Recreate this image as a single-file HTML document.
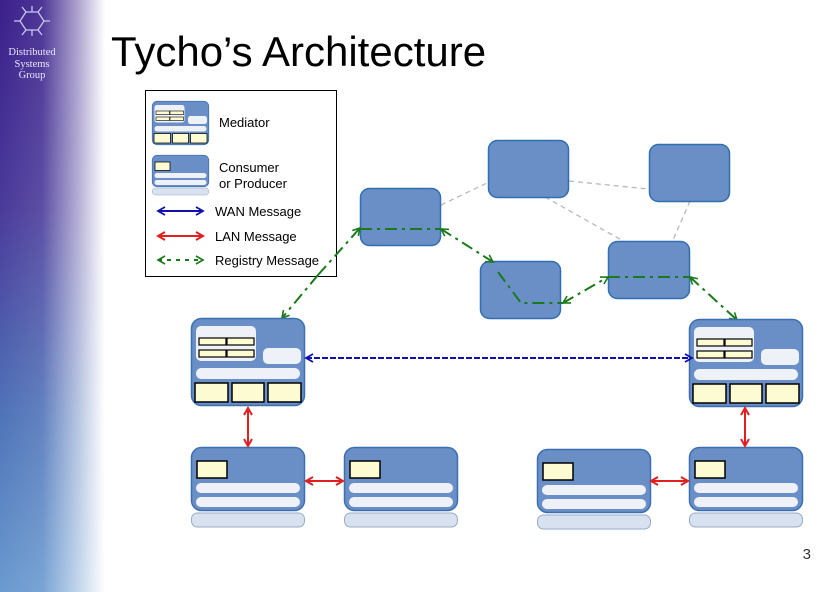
<!DOCTYPE html>
<html><head><meta charset="utf-8"><style>
html,body{margin:0;padding:0;background:#fff;}
body{width:839px;height:592px;overflow:hidden;position:relative;font-family:"Liberation Sans",sans-serif;}
.side{position:absolute;left:0;top:0;width:105px;height:592px;
background:linear-gradient(to right,rgba(255,255,255,0) 0%,rgba(255,255,255,0.1) 40%,rgba(255,255,255,0.6) 75%,rgba(255,255,255,1) 100%),linear-gradient(to bottom,#3a1f8a 0%,#4a3a9a 35%,#4f73b8 70%,#6a9ad0 100%);}
</style></head><body>
<div class="side"></div>
<svg width="839" height="592" style="position:absolute;left:0;top:0" font-family="Liberation Sans, sans-serif">
<defs>
<g id="med">
<rect x="0.5" y="0.5" width="113" height="87" rx="10" fill="#6a8fc7" stroke="#3c6fb0" stroke-width="1.5"/>
<rect x="5" y="8" width="60" height="35" rx="5" fill="#eef2f8"/>
<g fill="#fdfbd2" stroke="#000" stroke-width="1.2">
<rect x="8" y="20" width="27" height="7"/><rect x="36" y="20" width="27" height="7"/>
<rect x="8" y="32" width="27" height="7"/><rect x="36" y="32" width="27" height="7"/>
</g>
<rect x="72" y="30" width="38" height="16" rx="5" fill="#eef2f8"/>
<rect x="5" y="50" width="104" height="11" rx="5.5" fill="#eef2f8"/>
<g fill="#fdfbd2" stroke="#000" stroke-width="1.5">
<rect x="4" y="65" width="33" height="19"/><rect x="41" y="65" width="32" height="19"/><rect x="77" y="65" width="33" height="19"/>
</g>
</g>
<g id="con">
<rect x="0.5" y="0.5" width="113" height="63" rx="10" fill="#6a8fc7" stroke="#3c6fb0" stroke-width="1.5"/>
<rect x="6" y="14" width="30" height="17" fill="#fdfbd2" stroke="#000" stroke-width="1.5"/>
<rect x="5" y="36" width="104" height="10" rx="5" fill="#eef2f8"/>
<rect x="5" y="50" width="104" height="10" rx="5" fill="#eef2f8"/>
<rect x="0.5" y="66" width="113" height="14" rx="6" fill="#d7e1f0" stroke="#9aabc4"/>
</g>
<marker id="ag" markerWidth="10" markerHeight="10" refX="8" refY="5" orient="auto-start-reverse" markerUnits="userSpaceOnUse"><path d="M1,1 L8,5 L1,9" fill="none" stroke="#1a7a1a" stroke-width="1.6"/></marker>
<marker id="ar" markerWidth="10" markerHeight="10" refX="8" refY="5" orient="auto-start-reverse" markerUnits="userSpaceOnUse"><path d="M1,1 L8,5 L1,9" fill="none" stroke="#e02020" stroke-width="2"/></marker>
<marker id="ab" markerWidth="10" markerHeight="10" refX="8" refY="5" orient="auto-start-reverse" markerUnits="userSpaceOnUse"><path d="M1,1 L8,5 L1,9" fill="none" stroke="#1010b0" stroke-width="1.8"/></marker>
</defs>

<!-- logo -->
<g stroke="#c8c8f0" stroke-width="1.3" fill="none">
<polygon points="26,12 38,12 44,21 38,30 26,30 20,21"/>
<path d="M32,12 L32,6 M38,12 L42,7 M26,12 L22,7 M44,21 L50,21 M20,21 L14,21 M38,30 L42,35 M26,30 L22,35 M32,30 L32,36"/>
</g>
<text x="32" y="55" font-family="Liberation Serif, serif" font-size="10.5" fill="#e8e8ff" text-anchor="middle">Distributed</text>
<text x="32" y="67" font-family="Liberation Serif, serif" font-size="10.5" fill="#e8e8ff" text-anchor="middle">Systems</text>
<text x="32" y="78" font-family="Liberation Serif, serif" font-size="10.5" fill="#e8e8ff" text-anchor="middle">Group</text>

<text x="111" y="66" font-size="42" fill="#000">Tycho’s Architecture</text>
<text x="811" y="559" font-size="15" fill="#333" text-anchor="end">3</text>

<!-- legend -->
<rect x="145.5" y="90.5" width="191" height="186" fill="#fff" stroke="#000"/>
<g transform="translate(152,101) scale(0.5)">
<use href="#med"/>
</g>
<text x="219" y="127" font-size="13">Mediator</text>
<g transform="translate(152,155) scale(0.5)">
<use href="#con"/>
</g>
<text x="219" y="172" font-size="13">Consumer</text>
<text x="219" y="188" font-size="13">or Producer</text>
<line x1="158" y1="211" x2="203" y2="211" stroke="#1010b0" stroke-width="2" marker-start="url(#ab)" marker-end="url(#ab)"/>
<text x="215" y="216" font-size="13">WAN Message</text>
<line x1="158" y1="236" x2="203" y2="236" stroke="#e02020" stroke-width="2" marker-start="url(#ar)" marker-end="url(#ar)"/>
<text x="215" y="241" font-size="13">LAN Message</text>
<line x1="158" y1="260" x2="203" y2="260" stroke="#1a7a1a" stroke-width="2" stroke-dasharray="4,5" marker-start="url(#ag)" marker-end="url(#ag)"/>
<text x="215" y="265" font-size="13">Registry Message</text>

<!-- grey dashed -->
<g stroke="#b8b8b8" stroke-width="1.3" stroke-dasharray="5,4" fill="none">
<line x1="441" y1="205" x2="487" y2="183"/>
<line x1="569" y1="181" x2="648" y2="189"/>
<line x1="545" y1="197" x2="625" y2="242"/>
<line x1="690" y1="201" x2="673" y2="240"/>
</g>

<!-- cloud boxes -->
<g fill="#6a8fc7" stroke="#2f6fb0" stroke-width="1.5">
<rect x="360.5" y="188.5" width="80" height="57" rx="9"/>
<rect x="488.5" y="140.5" width="80" height="57" rx="9"/>
<rect x="649.5" y="144.5" width="80" height="57" rx="9"/>
<rect x="480.5" y="261.5" width="80" height="57" rx="9"/>
<rect x="608.5" y="241.5" width="81" height="57" rx="9"/>
</g>

<!-- registry path -->
<g stroke="#1a7a1a" stroke-width="2" fill="none" stroke-dasharray="12,5,3,5">
<line x1="318" y1="275" x2="282" y2="318" marker-end="url(#ag)"/>
<line x1="318" y1="275" x2="360" y2="228" marker-end="url(#ag)"/>
<line x1="360" y1="229" x2="441" y2="229"/>
<line x1="441" y1="229" x2="493" y2="262" marker-start="url(#ag)" marker-end="url(#ag)"/>
<polyline points="498,272 521,303 563,303"/>
<line x1="563" y1="303" x2="608" y2="277" marker-start="url(#ag)" marker-end="url(#ag)"/>
<line x1="608" y1="277" x2="690" y2="277"/>
<line x1="690" y1="277" x2="737" y2="320" marker-start="url(#ag)" marker-end="url(#ag)"/>
</g>

<!-- nodes -->
<use href="#med" x="191" y="318"/>
<use href="#med" x="689" y="319"/>
<use href="#con" x="191" y="447"/>
<use href="#con" x="344" y="447"/>
<use href="#con" x="537" y="449"/>
<use href="#con" x="689" y="447"/>

<!-- WAN -->
<line x1="306" y1="358" x2="692" y2="358" stroke="#1010b0" stroke-width="2" stroke-dasharray="6,2" marker-start="url(#ab)" marker-end="url(#ab)"/>
<!-- LAN -->
<g stroke="#e02020" stroke-width="2">
<line x1="248" y1="408" x2="248" y2="446" marker-start="url(#ar)" marker-end="url(#ar)"/>
<line x1="745" y1="408" x2="745" y2="446" marker-start="url(#ar)" marker-end="url(#ar)"/>
<line x1="306" y1="481" x2="343" y2="481" marker-start="url(#ar)" marker-end="url(#ar)"/>
<line x1="651" y1="481" x2="688" y2="481" marker-start="url(#ar)" marker-end="url(#ar)"/>
</g>
</svg>
</body></html>
